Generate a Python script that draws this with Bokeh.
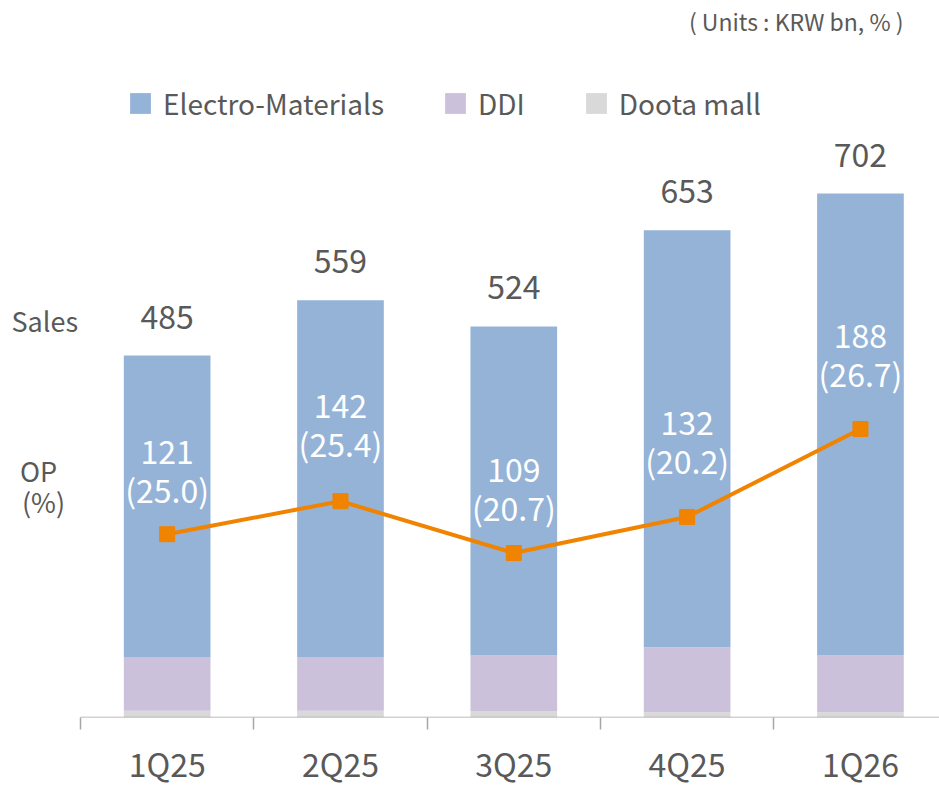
from bokeh.plotting import figure
from bokeh.models import ColumnDataSource, Range1d, FixedTicker, Legend, LegendItem, Label
from bokeh.core.properties import value
from bokeh.embed import file_html
from bokeh.resources import INLINE

# ---- data (KRW bn, %) ----
quarters = ["1Q25", "2Q25", "3Q25", "4Q25", "1Q26"]
sales_total = [485, 559, 524, 653, 702]
electro_materials = [404, 478, 441, 559, 619]
ddi = [72, 72, 75, 87, 76]
doota_mall = [9, 9, 8, 7, 7]
op = [121, 142, 109, 132, 188]
op_margin = ["25.0", "25.4", "20.7", "20.2", "26.7"]

# ---- styles ----
FONT = "Noto Sans CJK KR"
BLUE = "#95B3D7"
LILAC = "#CCC1DA"
GRAY = "#D9D9D9"
ORANGE = "#F08300"
TXT = "#595959"
AXIS = "#A6A6A6"
op_label_shift = [82, 95, 83, 94, 93]  # px above marker for first label line

xs = list(range(len(quarters)))
X_START, X_END = -0.9615, 4.456
src = ColumnDataSource(dict(
    x=xs,
    electro=electro_materials,
    ddi=ddi,
    doota=doota_mall,
    total=sales_total,
    total_txt=[str(v) for v in sales_total],
    op=op,
    op_txt=[str(v) for v in op],
    margin_txt=["(" + m + ")" for m in op_margin],
    off1=[-s for s in op_label_shift],
    off2=[-s + 37 for s in op_label_shift],
))

p = figure(width=939, height=788,
           x_range=Range1d(X_START, X_END), y_range=Range1d(0, 960.7),
           output_backend="svg", toolbar_location=None,
           min_border_left=0, min_border_right=0, min_border_top=0, min_border_bottom=0,
           y_axis_location=None)
p.extra_y_ranges = {"op": Range1d(4.3, 460.8)}
p.outline_line_color = None
p.xgrid.grid_line_color = None
p.ygrid.grid_line_color = None
p.background_fill_color = "white"

# stacked bars
r_doota, r_ddi, r_electro = p.vbar_stack(["doota", "ddi", "electro"], x="x", width=0.5, source=src,
                                         fill_color=[GRAY, LILAC, BLUE], line_color=None)

# baseline (category axis line starts at first category boundary)
p.segment(x0=[xs[0] - 0.5], y0=[0], x1=[X_END], y1=[0], line_color=AXIS, line_width=1.5)

# OP line
p.line(x="x", y="op", source=src, y_range_name="op", line_color=ORANGE, line_width=4)
p.scatter(x="x", y="op", source=src, y_range_name="op", marker="square", size=15,
          fill_color=ORANGE, line_color=ORANGE)

# total labels
p.text(x="x", y="total", text="total_txt", source=src, text_align="center",
       text_baseline="alphabetic", y_offset=-39, text_font=value(FONT),
       text_font_size="32px", text_color=TXT)

# OP labels inside bars
p.text(x="x", y="op", text="op_txt", source=src, y_range_name="op", text_align="center",
       text_baseline="alphabetic", y_offset="off1", text_font=value(FONT),
       text_font_size="32px", text_color="white")
p.text(x="x", y="op", text="margin_txt", source=src, y_range_name="op", text_align="center",
       text_baseline="alphabetic", y_offset="off2", text_font=value(FONT),
       text_font_size="32px", text_color="white")

# x axis
ax = p.xaxis[0]
ax.ticker = FixedTicker(ticks=xs, minor_ticks=[x - 0.5 for x in xs])
ax.major_label_overrides = {x: q for x, q in zip(xs, quarters)}
ax.major_tick_line_color = None
ax.major_tick_out = 0
ax.major_tick_in = 0
ax.minor_tick_in = 0
ax.minor_tick_out = 12
ax.minor_tick_line_color = AXIS
ax.minor_tick_line_width = 1.5
ax.axis_line_color = None
ax.major_label_standoff = 10
ax.major_label_text_font = FONT
ax.major_label_text_font_size = "32px"
ax.major_label_text_color = TXT

# legend
legend = Legend(items=[
    LegendItem(label="Electro-Materials", renderers=[r_electro]),
    LegendItem(label="DDI", renderers=[r_ddi]),
    LegendItem(label="Doota mall", renderers=[r_doota]),
], orientation="horizontal", location=(127, 594), glyph_width=26, glyph_height=26,
    label_standoff=10, spacing=58, padding=0, margin=0, border_line_color=None,
    background_fill_alpha=0, label_text_font=FONT, label_text_font_size="28px",
    label_text_color=TXT)
p.add_layout(legend)

# side texts
p.add_layout(Label(x=903, y=697, x_units="screen", y_units="screen",
                   text="( Units : KRW bn, % )", text_align="right", text_baseline="alphabetic",
                   text_font=FONT, text_font_size="23px", text_color=TXT))
p.add_layout(Label(x=11, y=397, x_units="screen", y_units="screen", text="Sales",
                   text_align="left", text_baseline="alphabetic",
                   text_font=FONT, text_font_size="27px", text_color=TXT))
p.add_layout(Label(x=38, y=247, x_units="screen", y_units="screen", text="OP",
                   text_align="center", text_baseline="alphabetic",
                   text_font=FONT, text_font_size="27px", text_color=TXT))
p.add_layout(Label(x=43, y=216, x_units="screen", y_units="screen", text="(%)",
                   text_align="center", text_baseline="alphabetic",
                   text_font=FONT, text_font_size="27px", text_color=TXT))

open("out.html", "w").write(file_html(p, INLINE))
